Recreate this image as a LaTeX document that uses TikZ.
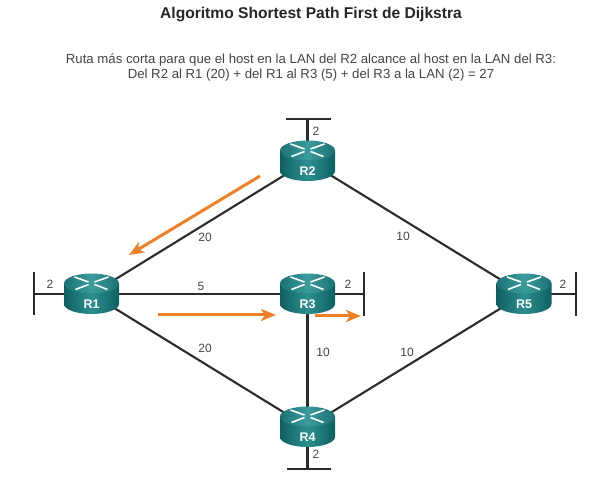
\documentclass[tikz,border=0pt]{standalone}
\usepackage{fontspec}
\setmainfont{Liberation Sans}
\usepackage{xcolor}
\definecolor{routerDark}{HTML}{0F5F62}
\definecolor{routerMid}{HTML}{2C8F8F}
\definecolor{routerTop}{HTML}{3A9C9C}
\definecolor{pathOrange}{HTML}{EE8027}
\definecolor{textGray}{HTML}{444444}
\definecolor{linkDark}{HTML}{2B2B2B}
\usetikzlibrary{arrows.meta, backgrounds}

\begin{document}
\begin{tikzpicture}[
    x=1pt, y=1pt,
    xarrow/.style ={white, line width=1.6pt},
    routerbody/.pic={
      \shade[left color=routerDark, right color=routerDark, middle color=routerMid]
        (-27.5,10.5) -- (-27.5,-10) arc[start angle=180, end angle=360, x radius=27.5, y radius=10]
        -- (27.5,10.5) -- cycle;
      \shade[left color=routerDark!70!routerTop, right color=routerDark!70!routerTop, middle color=routerTop]
        (0,10.5) ellipse[x radius=27.5, y radius=10];
      \draw[xarrow] (-17,17) -- (-3,12);
      \draw[xarrow] (17,17) -- (3,12);
      \draw[xarrow] (-3,9.5) -- (-16,4.5);
      \draw[xarrow] (3,9.5) -- (16,4.5);
    },
    router/.style ={rectangle, inner sep=0pt, minimum width=56pt, minimum height=41pt,
                    text height=35pt, text depth=6pt, text=white,
                    font=\fontsize{12.5}{12.5}\selectfont\bfseries},
    link/.style   ={line width=2.1pt, color=linkDark},
    lanbar/.style ={line width=2.1pt, color=linkDark},
    cost/.style   ={font=\fontsize{12}{12}\selectfont, text=textGray, inner sep=0pt},
    patharrow/.style={-{Stealth[length=15pt, width=12pt, inset=4pt]}, line width=3pt, color=pathOrange}
]
\useasboundingbox (0,0) rectangle (589,478);

\node[font=\fontsize{15.6}{17}\selectfont\bfseries, text=black!85] (title) at (311,463) {Algoritmo Shortest Path First de Dijkstra};
\node[font=\fontsize{13.2}{15}\selectfont, text=textGray, align=center] (subtitle) at (311,410.5)
  {Ruta más corta para que el host en la LAN del R2 alcance al host en la LAN del R3:\\
   Del R2 al R1 (20) + del R1 al R3 (5) + del R3 a la LAN (2) = 27};

\pic at (91.5,184) {routerbody};
\pic at (307.5,317) {routerbody};
\pic at (307.5,184) {routerbody};
\pic at (307.5,51) {routerbody};
\pic at (524,184) {routerbody};
\node[router] (R1) at (91.5,184) {R1};
\node[router] (R2) at (307.5,317) {R2};
\node[router] (R3) at (307.5,184) {R3};
\node[router] (R4) at (307.5,51) {R4};
\node[router] (R5) at (524,184) {R5};

% LAN stubs
\coordinate (lanR1) at (34,184);
\coordinate (lanR1a) at (34,206);
\coordinate (lanR1b) at (34,163);
\coordinate (lanR2) at (307.5,359);
\coordinate (lanR2a) at (286,359);
\coordinate (lanR2b) at (331,359);
\coordinate (lanR3) at (364,184);
\coordinate (lanR3a) at (364,206);
\coordinate (lanR3b) at (364,162);
\coordinate (lanR4) at (307.5,9);
\coordinate (lanR4a) at (287,9);
\coordinate (lanR4b) at (331,9);
\coordinate (lanR5) at (576,184);
\coordinate (lanR5a) at (576,206);
\coordinate (lanR5b) at (576,162);

\begin{scope}[on background layer]
\draw[link] (R1.center) -- (R2.center);
\draw[link] (R1.center) -- (R3.center);
\draw[link] (R1.center) -- (R4.center);
\draw[link] (R2.center) -- (R5.center);
\draw[link] (R3.center) -- (R4.center);
\draw[link] (R4.center) -- (R5.center);
\draw[link] (R1.center) -- (lanR1);
\draw[link] (R2.center) -- (lanR2);
\draw[link] (R3.center) -- (lanR3);
\draw[link] (R4.center) -- (lanR4);
\draw[link] (R5.center) -- (lanR5);
\end{scope}
\draw[lanbar] (lanR1a) -- (lanR1b);
\draw[lanbar] (lanR2a) -- (lanR2b);
\draw[lanbar] (lanR3a) -- (lanR3b);
\draw[lanbar] (lanR4a) -- (lanR4b);
\draw[lanbar] (lanR5a) -- (lanR5b);

% costs
\node[cost] (c12) at (205,241) {20};
\node[cost] (c25) at (403,242) {10};
\node[cost] (c13) at (201,192) {5};
\node[cost] (c14) at (205,130) {20};
\node[cost] (c34) at (323,126) {10};
\node[cost] (c45) at (407,126) {10};
\node[cost] (l1) at (50,194) {2};
\node[cost] (l2) at (316,347) {2};
\node[cost] (l3) at (348,194) {2};
\node[cost] (l4) at (316,24) {2};
\node[cost] (l5) at (563,194) {2};

% shortest path
\coordinate (p1a) at (260,302);
\coordinate (p1b) at (129,223);
\coordinate (p2a) at (158,163);
\coordinate (p2b) at (276,163);
\coordinate (p3a) at (315,162);
\coordinate (p3b) at (361,162);
\draw[patharrow] (p1a) -- (p1b);
\draw[patharrow] (p2a) -- (p2b);
\draw[patharrow] (p3a) -- (p3b);
\end{tikzpicture}
\end{document}
